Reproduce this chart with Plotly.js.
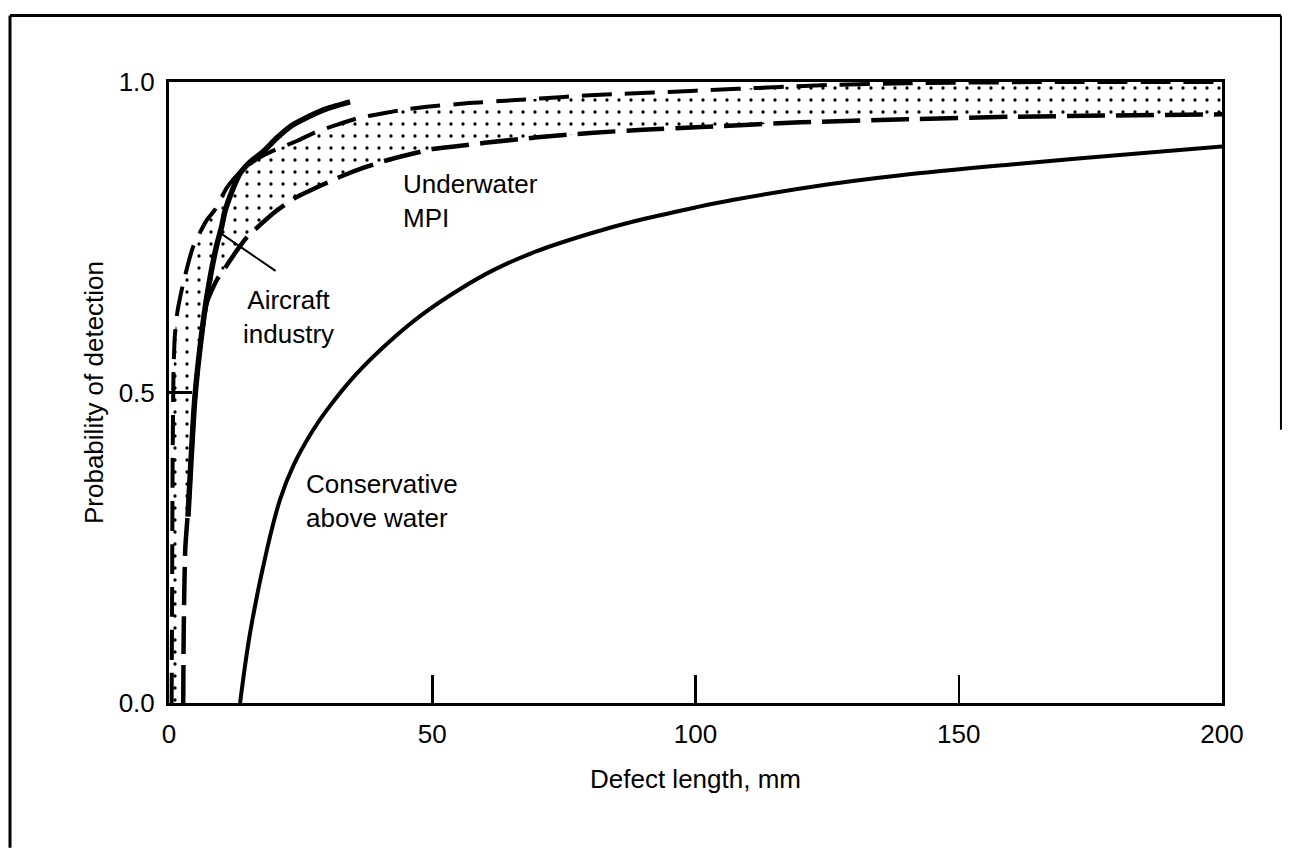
<!DOCTYPE html>
<html>
<head>
<meta charset="utf-8">
<script src="https://cdn.plot.ly/plotly-3.0.1.min.js"></script>
<style>
  html, body { margin: 0; padding: 0; background: #ffffff; }
  #chart { width: 1291px; height: 857px; }
</style>
</head>
<body>
<div id="chart"></div>
<script>
// ---- data (defect length in mm, probability of detection) ----
const conservX = [13.5, 15.4, 18.6, 21.1, 23.6, 27.4, 30, 35.6, 42, 48, 55, 61.6, 70, 80, 88, 100, 107, 125, 139, 161, 180, 200];
const conservY = [0, 0.113, 0.247, 0.328, 0.382, 0.44, 0.472, 0.53, 0.583, 0.625, 0.665, 0.697, 0.728, 0.756, 0.775, 0.798, 0.81, 0.835, 0.85, 0.868, 0.882, 0.896];

const mpiLowerX = [2.7, 2.8, 3.1, 3.8, 4.9, 6, 7.2, 9, 11, 13, 14.8, 17.3, 20, 24.3, 28, 33, 37, 41.4, 46, 50, 55, 60, 70, 80, 90, 100, 120, 140, 160, 200];
const mpiLowerY = [0, 0.12, 0.25, 0.33, 0.49, 0.58, 0.645, 0.68, 0.705, 0.73, 0.75, 0.77, 0.79, 0.815, 0.83, 0.849, 0.862, 0.874, 0.884, 0.892, 0.897, 0.902, 0.911, 0.918, 0.923, 0.927, 0.935, 0.94, 0.944, 0.948];

const mpiUpperX = [0.5, 0.6, 0.7, 0.85, 1.1, 1.6, 2.7, 4.6, 7.2, 8.7, 11, 13.5, 16, 18, 20.7, 24.3, 28, 31.5, 36, 41, 45, 49, 57, 66, 75, 83, 92, 100, 108, 116, 125, 140, 170, 200];
const mpiUpperY = [0, 0.2, 0.4, 0.53, 0.59, 0.63, 0.676, 0.735, 0.778, 0.794, 0.83, 0.855, 0.872, 0.882, 0.893, 0.905, 0.92, 0.93, 0.942, 0.95, 0.956, 0.96, 0.966, 0.971, 0.976, 0.98, 0.983, 0.986, 0.989, 0.992, 0.995, 0.998, 1.0, 1.0];

const aircraftX = [3.6, 4.9, 6, 7.2, 9, 10, 10.6, 12, 13.5, 15.5, 17.9, 20.5, 23, 26, 30, 34.4];
const aircraftY = [0.3, 0.49, 0.58, 0.655, 0.735, 0.767, 0.791, 0.825, 0.853, 0.872, 0.888, 0.91, 0.928, 0.942, 0.957, 0.968];

const xTicks = [0, 50, 100, 150, 200];
const xTickText = ['0', '50', '100', '150', '200'];
const yTicks = [0, 0.5, 1.0];
const yTickText = ['0.0', '0.5', '1.0'];

const labels = {
  xTitle: 'Defect length, mm',
  yTitle: 'Probability of detection',
  mpi: 'Underwater<br>MPI',
  aircraft: 'Aircraft<br>industry',
  conservative: 'Conservative<br>above water'
};

const FONT = '"Liberation Sans", Arial, Helvetica, sans-serif';

const traces = [
  {
    x: mpiLowerX, y: mpiLowerY, mode: 'lines', type: 'scatter',
    line: { color: '#000', width: 4.5, dash: '38px,11px', shape: 'spline', smoothing: 0.6 },
    hoverinfo: 'skip', showlegend: false
  },
  {
    x: mpiUpperX, y: mpiUpperY, mode: 'lines', type: 'scatter',
    line: { color: '#000', width: 4, dash: '30px,13px', shape: 'spline', smoothing: 0.6 },
    fill: 'tonexty', fillcolor: 'rgba(255,255,255,0)',
    fillpattern: { shape: '.', size: 12, solidity: 0.06, fgcolor: '#000', bgcolor: 'rgba(255,255,255,0)' },
    hoverinfo: 'skip', showlegend: false
  },
  {
    x: aircraftX, y: aircraftY, mode: 'lines', type: 'scatter',
    line: { color: '#000', width: 5.5, shape: 'spline', smoothing: 0.6 },
    hoverinfo: 'skip', showlegend: false
  },
  {
    x: conservX, y: conservY, mode: 'lines', type: 'scatter',
    line: { color: '#000', width: 4, shape: 'spline', smoothing: 1 },
    hoverinfo: 'skip', showlegend: false
  }
];

const layout = {
  width: 1291, height: 857,
  margin: { l: 169, r: 69, t: 82, b: 154 },
  paper_bgcolor: '#fff', plot_bgcolor: '#fff',
  font: { family: FONT, color: '#000', size: 26 },
  showlegend: false,
  xaxis: {
    range: [0, 200], tickvals: xTicks, ticktext: xTickText,
    ticks: 'inside', ticklen: 28, tickwidth: 2.5, tickcolor: '#000',
    showline: true, mirror: true, linewidth: 3, linecolor: '#000',
    showgrid: false, zeroline: false, fixedrange: true,
    tickfont: { family: FONT, size: 26, color: '#000' },
    ticklabelstandoff: 6,
    title: { text: labels.xTitle, font: { family: FONT, size: 26, color: '#000' }, standoff: 22 }
  },
  yaxis: {
    range: [0, 1], tickvals: yTicks, ticktext: yTickText,
    ticks: 'inside', ticklen: 23, tickwidth: 2.5, tickcolor: '#000',
    showline: true, mirror: true, linewidth: 3, linecolor: '#000',
    showgrid: false, zeroline: false, fixedrange: true,
    tickfont: { family: FONT, size: 26, color: '#000' },
    ticklabelstandoff: 6,
    title: { text: labels.yTitle, font: { family: FONT, size: 26, color: '#000' }, standoff: 8 }
  },
  annotations: [
    { text: labels.mpi, x: 44, y: 0.809, xref: 'x', yref: 'y', xanchor: 'left', yanchor: 'middle', align: 'left', showarrow: false, font: { family: FONT, size: 26 } },
    { text: labels.aircraft, x: 22.7, y: 0.622, xref: 'x', yref: 'y', xanchor: 'center', yanchor: 'middle', align: 'center', showarrow: false, font: { family: FONT, size: 26 } },
    { text: labels.conservative, x: 25.6, y: 0.325, xref: 'x', yref: 'y', xanchor: 'left', yanchor: 'middle', align: 'left', showarrow: false, font: { family: FONT, size: 26 } },
    { text: '', x: 9.7, y: 0.757, xref: 'x', yref: 'y', showarrow: true, arrowhead: 0, arrowwidth: 2, arrowcolor: '#000', ax: 57, ay: 39, standoff: 0 }
  ],
  shapes: [
    // outer figure frame (left, top, right edges)
    { type: 'line', xref: 'paper', yref: 'paper', x0: -0.151, x1: -0.151, y0: -0.233, y1: 1.107, line: { color: '#000', width: 3 } },
    { type: 'line', xref: 'paper', yref: 'paper', x0: -0.151, x1: 1.056, y0: 1.107, y1: 1.107, line: { color: '#000', width: 3 } },
    { type: 'line', xref: 'paper', yref: 'paper', x0: 1.056, x1: 1.056, y0: 0.44, y1: 1.107, line: { color: '#000', width: 2 } }
  ]
};

Plotly.newPlot('chart', traces, layout, { displayModeBar: false, staticPlot: true });
</script>
</body>
</html>
